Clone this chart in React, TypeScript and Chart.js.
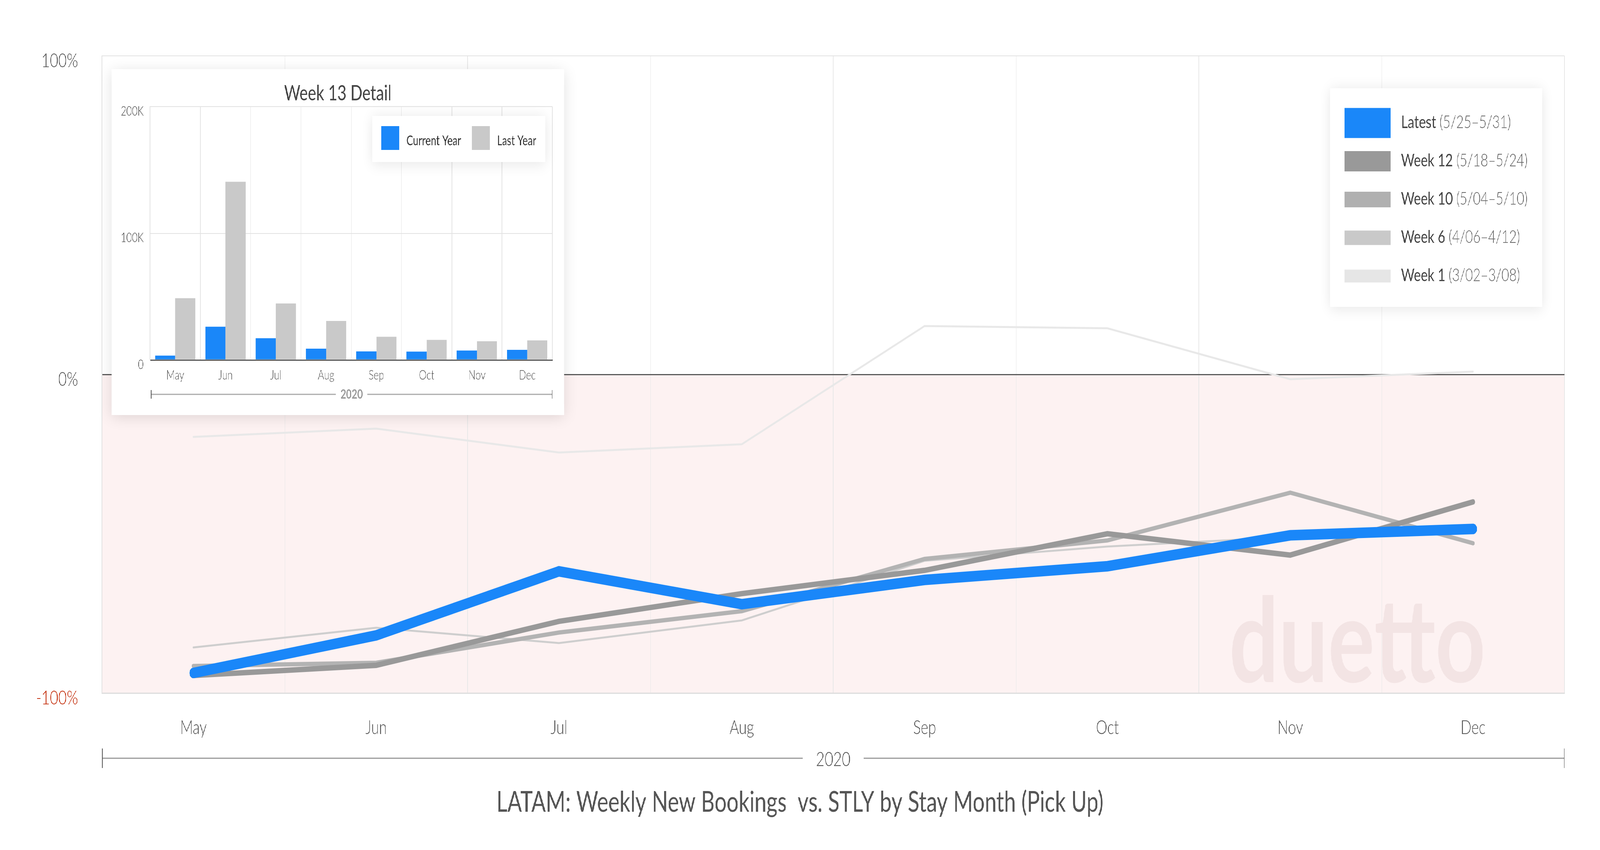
import { useEffect, useRef } from "react";
import { Chart, registerables, Plugin } from "chart.js";

Chart.register(...registerables);
Chart.defaults.font.family = "Lato, 'Noto Sans', sans-serif";

// ---- data ----
const months = ["May", "Jun", "Jul", "Aug", "Sep", "Oct", "Nov", "Dec"];
const yearLabel = "2020";
const mainTitle = "LATAM: Weekly New Bookings  vs. STLY by Stay Month (Pick Up)";

const seriesNames = ["Latest", "Week 12", "Week 10", "Week 6", "Week 1"];
const seriesRanges = ["(5/25–5/31)", "(5/18–5/24)", "(5/04–5/10)", "(4/06–4/12)", "(3/02–3/08)"];

// % vs STLY, by stay month
const latest = [-93.7, -81.9, -61.8, -72.1, -64.5, -60.2, -50.5, -48.5];
const week12 = [-94.5, -91.3, -77.5, -68.8, -61.5, -50.0, -56.7, -40.0];
const week10 = [-91.5, -90.5, -81.0, -74.3, -57.9, -52.1, -37.1, -53.0];
const week6 = [-85.7, -79.5, -84.3, -77.2, -58.5, -54.0, -51.0, -48.0];
const week1 = [-19.6, -17.0, -24.5, -21.9, 15.2, 14.5, -1.5, 0.9];

const pctTicks = [-100, 0, 100];

const detailTitle = "Week 13 Detail";
const detailNames = ["Current Year", "Last Year"];
const detailCurrentYear = [3500, 26300, 17200, 8900, 6800, 6600, 7500, 8000];
const detailLastYear = [48800, 140700, 44600, 30800, 18300, 15900, 14800, 15500];
const detailTicks = [0, 100000, 200000];

// ---- styles ----
const W = 5492;
const H = 2177;
const BLUE = "#1a87f9";
const lineColors = [BLUE, "#999999", "#b3b3b3", "#cecece", "#e8e8e8"];
const lineWidths = [27, 14, 11, 5, 5];
const swatchColors = [BLUE, "#999999", "#b0b0b0", "#c9c9c9", "#e6e6e6"];
const swatchHeights = [77, 52, 40, 37, 33];
const barColors = [BLUE, "#c9c9c9"];
const FONT = "Lato, 'Noto Sans', sans-serif";

function drawBracket(
  ctx: CanvasRenderingContext2D,
  left: number,
  right: number,
  y: number,
  text: string,
  font: string,
  textColor: string,
  lineColor: string,
  lineW: number,
  tickH: number,
  gap: number,
  baselineOffset: number
) {
  ctx.save();
  ctx.font = font;
  const cx = (left + right) / 2;
  const tw = ctx.measureText(text).width;
  ctx.strokeStyle = lineColor;
  ctx.lineWidth = lineW;
  ctx.beginPath();
  ctx.moveTo(left, y);
  ctx.lineTo(cx - tw / 2 - gap, y);
  ctx.moveTo(cx + tw / 2 + gap, y);
  ctx.lineTo(right, y);
  ctx.stroke();
  ctx.strokeStyle = "#555";
  ctx.lineWidth = 2;
  ctx.beginPath();
  ctx.moveTo(left + 1, y - tickH / 2);
  ctx.lineTo(left + 1, y + tickH / 2);
  ctx.moveTo(right - 1, y - tickH / 2);
  ctx.lineTo(right - 1, y + tickH / 2);
  ctx.stroke();
  ctx.fillStyle = textColor;
  ctx.textAlign = "center";
  ctx.textBaseline = "alphabetic";
  ctx.fillText(text, cx, y + baselineOffset);
  ctx.restore();
}

function card(ctx: CanvasRenderingContext2D, x: number, y: number, w: number, h: number) {
  ctx.save();
  ctx.shadowColor = "rgba(0,0,0,0.10)";
  ctx.shadowBlur = 36;
  ctx.shadowOffsetY = 4;
  ctx.fillStyle = "#ffffff";
  ctx.fillRect(x, y, w, h);
  ctx.restore();
}

const mainDecor: Plugin<"line"> = {
  id: "mainDecor",
  beforeDraw(chart) {
    const { ctx, chartArea: a, scales } = chart;
    const y0 = scales.y.getPixelForValue(0);
    const yb = scales.y.getPixelForValue(-100);
    ctx.save();
    ctx.fillStyle = "#fdf2f2";
    ctx.fillRect(a.left, y0, a.right - a.left, yb - y0);
    ctx.restore();
  },
  beforeDatasetsDraw(chart) {
    const { ctx, chartArea: a } = chart;
    ctx.save();
    ctx.font = `bold 300px ${FONT}`;
    ctx.fillStyle = "#f3e4e4";
    ctx.textAlign = "right";
    ctx.textBaseline = "alphabetic";
    ctx.fillText("duetto", a.right - 271, a.bottom - 28);
    ctx.restore();
  },
  afterDraw(chart) {
    const { ctx, chartArea: a } = chart;
    drawBracket(ctx, a.left, a.right, a.bottom + 167, yearLabel, `300 51px ${FONT}`, "#555", "#999", 3, 50, 45, 20);

    ctx.save();
    ctx.font = `73px ${FONT}`;
    ctx.fillStyle = "#555";
    ctx.textAlign = "center";
    ctx.textBaseline = "alphabetic";
    ctx.fillText(mainTitle, chart.width / 2, a.bottom + 304);
    ctx.restore();

    // legend card
    const lx = a.right - 804;
    const ly = a.top + 83;
    card(ctx, lx, ly, 728, 560);
    ctx.save();
    seriesNames.forEach((name, i) => {
      const cy = ly + 89 + i * 98;
      const h = swatchHeights[i];
      ctx.fillStyle = swatchColors[i];
      ctx.fillRect(lx + 49, cy - h / 2, 158, h);
      ctx.textAlign = "left";
      ctx.textBaseline = "alphabetic";
      ctx.font = `45px ${FONT}`;
      ctx.fillStyle = "#444";
      ctx.fillText(name, lx + 243, cy + 13);
      const nw = ctx.measureText(name + " ").width;
      ctx.font = `300 45px ${FONT}`;
      ctx.fillStyle = "#666";
      ctx.fillText(seriesRanges[i], lx + 243 + nw, cy + 13);
    });
    ctx.restore();
  },
};

const detailDecor: Plugin<"bar"> = {
  id: "detailDecor",
  afterDraw(chart) {
    const { ctx, chartArea: a } = chart;
    ctx.save();
    ctx.font = `54px ${FONT}`;
    ctx.fillStyle = "#444";
    ctx.textAlign = "center";
    ctx.textBaseline = "alphabetic";
    ctx.fillText(detailTitle, chart.width / 2, 80);
    ctx.restore();

    drawBracket(ctx, a.left + 3, a.right, a.bottom + 88, yearLabel, `bold 33px ${FONT}`, "#999", "#aaa", 3, 22, 16, 11);

    // legend card
    const lx = 895;
    const ly = 120;
    card(ctx, lx, ly, 594, 118);
    ctx.save();
    const sx = [lx + 31, lx + 342];
    detailNames.forEach((name, i) => {
      ctx.fillStyle = barColors[i];
      ctx.fillRect(sx[i], ly + 26, 61, 61);
      ctx.font = `34px ${FONT}`;
      ctx.fillStyle = "#333";
      ctx.textAlign = "left";
      ctx.textBaseline = "alphabetic";
      ctx.fillText(name, sx[i] + 86, ly + 75);
    });
    ctx.restore();
  },
};

function DetailChart() {
  const ref = useRef<HTMLCanvasElement>(null);
  useEffect(() => {
    if (!ref.current) return;
    const chart = new Chart(ref.current, {
      type: "bar",
      data: {
        labels: months,
        datasets: [
          { label: detailNames[0], data: detailCurrentYear, backgroundColor: barColors[0] },
          { label: detailNames[1], data: detailLastYear, backgroundColor: barColors[1] },
        ],
      },
      options: {
        animation: false,
        responsive: false,
        devicePixelRatio: 1,
        layout: { padding: { top: 96, right: 40, left: 0, bottom: 0 } },
        datasets: { bar: { categoryPercentage: 0.8, barPercentage: 1 } },
        plugins: { legend: { display: false }, tooltip: { enabled: false } },
        scales: {
          x: {
            grid: { offset: true, color: "#e4e4e4", lineWidth: 2, drawTicks: false },
            border: { color: "#555", width: 3 },
            ticks: { padding: 20, color: "#555", font: { size: 33, weight: 300 } },
            afterFit: (s: any) => {
              s.height = 141;
            },
          },
          y: {
            min: 0,
            max: 200000,
            afterBuildTicks: (s: any) => {
              s.ticks = detailTicks.map((v) => ({ value: v }));
            },
            grid: {
              color: (c: any) => (c.tick && c.tick.value === 0 ? "#555" : "#e2e2e2"),
              lineWidth: (c: any) => (c.tick && c.tick.value === 0 ? 3 : 2),
              drawTicks: false,
            },
            border: { color: "#e2e2e2", width: 2 },
            ticks: {
              padding: 22,
              labelOffset: 12,
              color: "#444",
              font: { size: 33, weight: 300 },
              callback: (v: any) => (v === 0 ? "0" : v / 1000 + "K"),
            },
            afterFit: (s: any) => {
              s.width = 132;
            },
          },
        },
      },
      plugins: [detailDecor],
    });
    return () => chart.destroy();
  }, []);
  return <canvas ref={ref} width={1553} height={886} style={{ display: "block" }} />;
}

function MainChart() {
  const ref = useRef<HTMLCanvasElement>(null);
  useEffect(() => {
    if (!ref.current) return;
    const series = [latest, week12, week10, week6, week1];
    const chart = new Chart(ref.current, {
      type: "line",
      data: {
        labels: months,
        datasets: series.map((d, i) => ({
          label: seriesNames[i] + " " + seriesRanges[i],
          data: d,
          borderColor: lineColors[i],
          borderWidth: lineWidths[i],
          pointRadius: 0,
          borderCapStyle: "round" as const,
          borderJoinStyle: "miter" as const,
          tension: 0,
          fill: false,
        })),
      },
      options: {
        animation: false,
        responsive: false,
        devicePixelRatio: 1,
        layout: { padding: { top: 143, right: 122, left: 0, bottom: 0 } },
        plugins: { legend: { display: false }, tooltip: { enabled: false } },
        scales: {
          x: {
            offset: true,
            grid: { offset: true, color: "#e8e8e8", lineWidth: 2, drawTicks: false },
            border: { color: "#dddddd", width: 3 },
            ticks: { padding: 60, color: "#555", font: { size: 49, weight: 300 } },
            afterFit: (s: any) => {
              s.height = 402;
            },
          },
          y: {
            min: -100,
            max: 100,
            afterBuildTicks: (s: any) => {
              s.ticks = pctTicks.map((v) => ({ value: v }));
            },
            grid: {
              color: (c: any) => (c.tick && c.tick.value === 0 ? "#5a5a5a" : "#e2e2e2"),
              lineWidth: (c: any) => (c.tick && c.tick.value === 0 ? 3 : 2),
              drawTicks: false,
            },
            border: { color: "#e2e2e2", width: 2 },
            ticks: {
              padding: 82,
              labelOffset: 13,
              color: (c: any) => (c.tick && c.tick.value < 0 ? "#c4300e" : "#555"),
              font: { size: 50, weight: 300 },
              callback: (v: any) => v + "%",
            },
            afterFit: (s: any) => {
              s.width = 350;
            },
          },
        },
      },
      plugins: [mainDecor],
    });
    return () => chart.destroy();
  }, []);
  return <canvas ref={ref} width={W} height={H} style={{ display: "block" }} />;
}

export default function App() {
  // laid out in 5492x2177 picture pixels, then fitted to whatever viewport the browser really gives
  const kx = window.innerWidth / W;
  const ky = window.innerHeight / H;
  return (
    <div style={{ position: "fixed", left: 0, top: 0, width: "100vw", height: "100vh", overflow: "hidden", background: "#fff" }}>
      <div style={{ position: "absolute", left: 0, top: 0, width: W, height: H, transform: `scale(${kx}, ${ky})`, transformOrigin: "0 0" }}>
        <MainChart />
        <div
          style={{
            position: "absolute",
            left: 383,
            top: 177,
            width: 1553,
            height: 886,
            background: "#fff",
            boxShadow: "0 6px 40px rgba(0,0,0,0.12)",
          }}
        >
          <DetailChart />
        </div>
      </div>
    </div>
  );
}
